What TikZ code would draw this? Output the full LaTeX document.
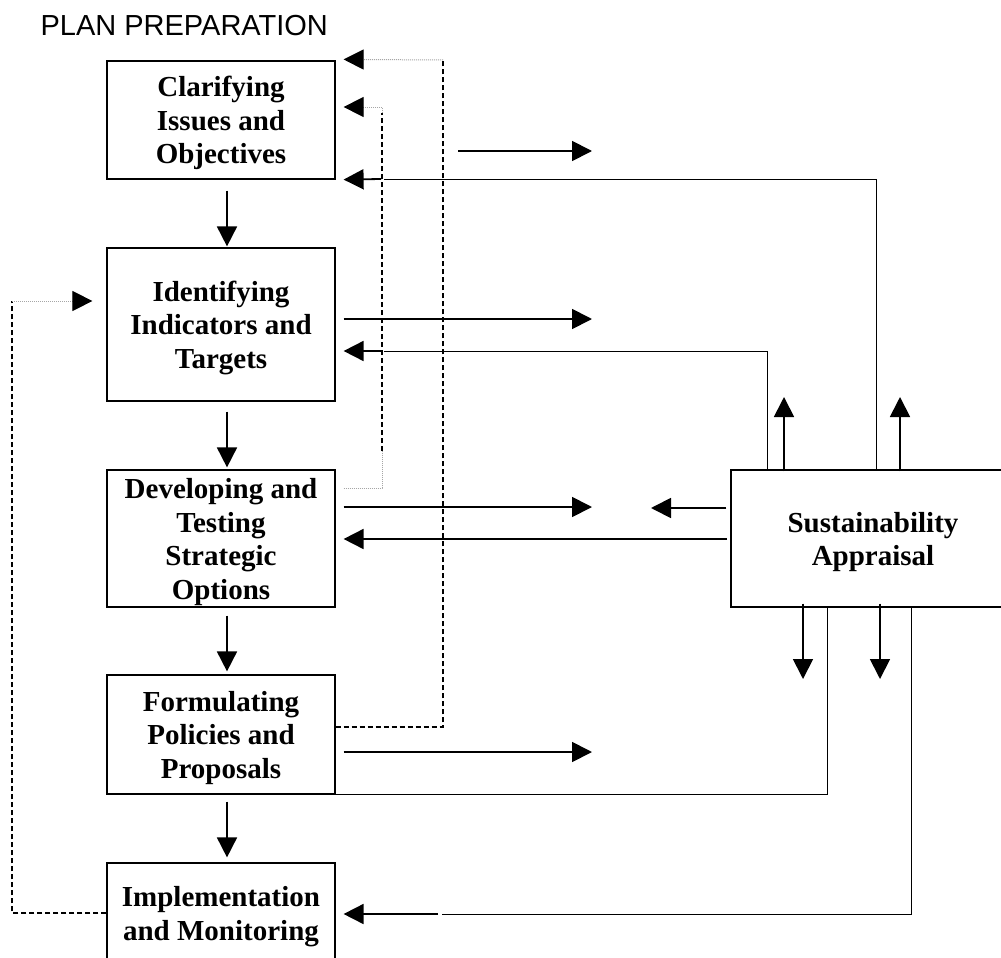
\documentclass[tikz,border=0pt]{standalone}
\usepackage{fontspec}
\setmainfont{Liberation Serif}
\newfontfamily\titlesans{Liberation Sans}
\usetikzlibrary{arrows.meta,calc}
\newcommand\firstln{\rule{0pt}{27pt}}
\begin{document}
\begin{tikzpicture}[x=1pt,y=-1pt,
  box/.style={draw, line width=1.2pt, inner sep=0pt, minimum width=228pt, align=center,
    font=\fontsize{29}{33.5}\selectfont\bfseries},
  tip/.style={-{Triangle[length=20pt,width=20pt,color=black]}},
  arr/.style={tip, line width=1.8pt},
  thinline/.style={line width=1pt},
  dashblk/.style={line width=2.6pt, dash pattern=on 5pt off 3pt},
  dotgrey/.style={line width=1pt, black!35, dash pattern=on 1pt off 1pt},
]
\useasboundingbox (0,0) rectangle (1001,958);
\clip (0,0) rectangle (1001,958);
\fill[white] (0,0) rectangle (1001,958);

\node[anchor=base west, font=\titlesans\fontsize{29}{33}\selectfont] (title) at (37,36) {PLAN PREPARATION};

\node[box, minimum height=118pt] (clar) at (221,120) {\firstln Clarifying\\Issues and\\Objectives};
\node[box, minimum height=153pt] (ident) at (221,324.5) {\firstln Identifying\\Indicators and\\Targets};
\node[box, minimum height=137pt] (dev) at (221,538.5) {\firstln Developing and\\Testing\\Strategic\\Options};
\node[box, minimum height=119pt] (form) at (221,734.5) {\firstln Formulating\\Policies and\\Proposals};
\node[box, minimum height=100pt] (impl) at (221,913) {\firstln Implementation\\and Monitoring};
\node[box, minimum width=284pt, minimum height=137pt] (sa) at (873,538.5) {\firstln Sustainability\\Appraisal};

% downward chain
\draw[arr] ($(clar.south)+(6,11)$) -- ($(ident.north)+(6,-1)$);
\draw[arr] ($(ident.south)+(6,10)$) -- ($(dev.north)+(6,-2)$);
\draw[arr] ($(dev.south)+(6,8)$) -- ($(form.north)+(6,-3)$);
\draw[arr] ($(form.south)+(6,7)$) -- ($(impl.north)+(6,-5)$);

% rightward arrows
\coordinate (o1s) at (458,151); \coordinate (o1) at (592,151);
\draw[arr] (o1s) -- (o1);
\coordinate (o2) at (592,319);
\draw[arr] ($(ident.east |- o2)+(8,0)$) -- (o2);
\coordinate (o3) at (592,507);
\draw[arr] ($(dev.east |- o3)+(8,0)$) -- (o3);
\coordinate (o4) at (592,752);
\draw[arr] ($(form.east |- o4)+(8,0)$) -- (o4);

% from SA to the left
\coordinate (o5) at (651,508);
\draw[arr] ($(sa.west |- o5)+(-4,0)$) -- (o5);
\coordinate (o6) at (727,539);
\draw[arr] (o6) -- ($(dev.east |- o6)+(8,0)$);

% up / down arrows at SA
\coordinate (u1) at (784,397); \coordinate (u2) at (900,397);
\draw[arr] ($(sa.north -| u1)+(0,2)$) -- (u1);
\draw[arr] ($(sa.north -| u2)+(0,2)$) -- (u2);
\coordinate (d1) at (803,679); \coordinate (d2) at (880,679);
\draw[arr] ($(sa.south -| d1)+(0,-4)$) -- (d1);
\draw[arr] ($(sa.south -| d2)+(0,-4)$) -- (d2);

% return lines
\coordinate (r1) at (384,179);
\draw[thinline] (sa.north -| 876,0) |- (r1);
\draw[arr] ($(r1)+(-3,0)$) -- ($(clar.south east)+(8,0)$);
\coordinate (r2) at (384,351);
\draw[thinline] (sa.north -| 767,0) |- (r2);
\draw[arr] ($(r2)+(-3,0)$) -- ($(ident.east |- r2)+(8,0)$);
\draw[thinline] (sa.south -| 827,0) |- (form.south east);
\coordinate (r4) at (442,914);
\draw[thinline] (sa.south -| 911,0) |- (r4);
\draw[arr] ($(r4)+(-4,0)$) -- ($(impl.east |- r4)+(8,0)$);

% dashed feedback: Formulating -> Clarifying
\coordinate (k1) at (443,727); \coordinate (k1t) at (443,61);
\draw[dashblk] (form.east |- k1) -- (k1) -- (k1t);
\draw[dotgrey, tip] (443,60) -- ($(clar.north east)+(8,-1)$);

% dashed feedback: Developing -> Clarifying
\coordinate (k2a) at (382,488); \coordinate (k2b) at (382,451);
\coordinate (k2c) at (382,113); \coordinate (k2d) at (382,107);
\draw[dotgrey] ($(dev.east |- k2a)+(8,0)$) -- (k2a) -- (k2b);
\draw[dashblk] (k2b) -- (k2c);
\draw[dotgrey, tip] (k2c) -- (k2d) -- ($(clar.east |- k2d)+(8,0)$);

% dashed feedback: Implementation -> Identifying
\coordinate (k3a) at (12,913); \coordinate (k3b) at (12,301);
\draw[dashblk] (impl.west |- k3a) -- (k3a) -- (k3b);
\draw[dotgrey, tip] (k3b) -- ($(ident.west |- k3b)+(-14,0)$);
\end{tikzpicture}
\end{document}
